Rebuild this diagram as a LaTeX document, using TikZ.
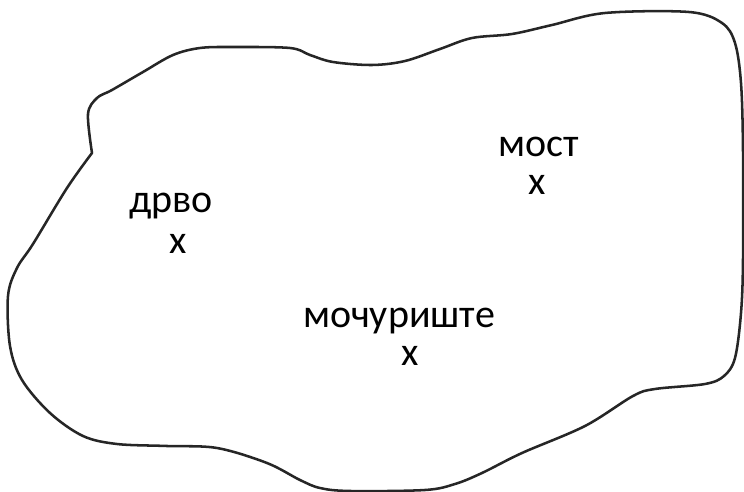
\documentclass[tikz,border=0pt]{standalone}
\usepackage{fontspec}
\setmainfont{Carlito}
\usetikzlibrary{positioning}
\tikzset{
  region/.style={draw=black!85, line width=1.9pt, line join=round},
  place/.style={font=\fontsize{30}{36}\selectfont, anchor=base, inner sep=0pt},
  spot/.style={font=\fontsize{30}{36}\selectfont, anchor=base, inner sep=0pt}
}

\begin{document}
\begin{tikzpicture}[x=0.75pt, y=-0.75pt]
  \useasboundingbox (0,0) rectangle (744,492);
  % outline of the area
  \draw[region] plot[smooth, tension=0.55] coordinates {
    (92,153) (88,114) (97,98) (112,90) (143,72) (173,55) (200,48) (233,47)
    (290,48) (310,55) (333,62) (372,65) (405,61) (440,49) (472,38) (512,34)
    (552,25) (605,13) (689,12) (722,23) (735,43) (741,83) (743,150) (743,260)
    (741,313) (735,358) (724,376) (705,384) (655,389) (633,396) (585,426)
    (522,453) (482,473) (455,484) (425,490) (350,491) (320,488) (300,480)
    (267,463) (217,448) (167,446) (117,444) (83,436) (50,413) (22,380)
    (10,346) (8,296) (17,268) (33,244) (67,188) (92,153)} -- cycle;
  % places
  \node[place] (drvo) at (171,213) {дрво};
  \node[spot] (drvox) at (178,253) {x};
  \node[place] (most) at (539,157) {мост};
  \node[spot] (mostx) at (537,195) {x};
  \node[place] (mocuriste) at (399,327) {мочуриште};
  \node[spot] (mocuristex) at (410,365) {x};
\end{tikzpicture}
\end{document}
